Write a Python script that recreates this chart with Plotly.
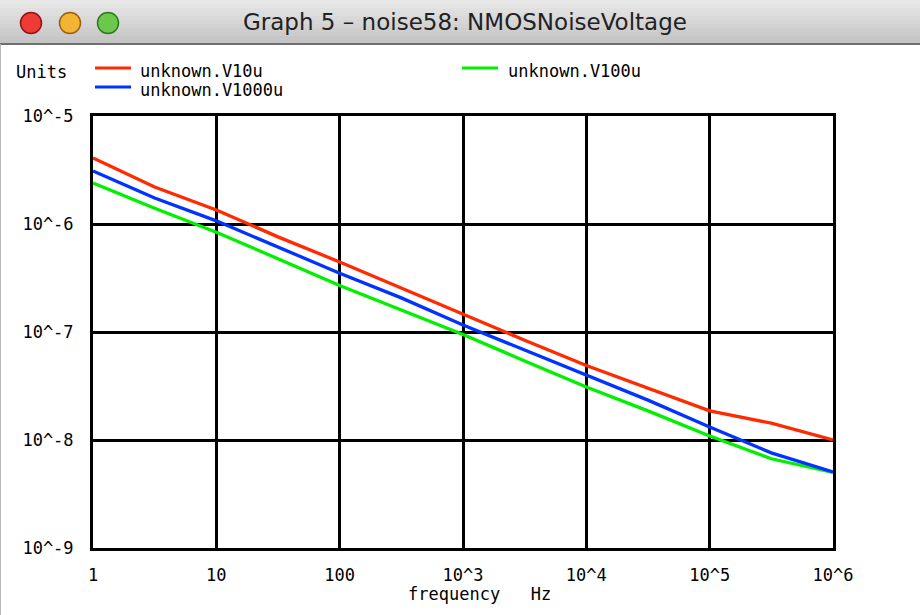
import plotly.graph_objects as go

# ---- data ----
freq = [1, 3.16, 10, 31.6, 100, 316, 1000, 3160, 10000, 31600, 100000, 316000, 1000000]
v10u = [4.08e-6, 2.2e-6, 1.35e-6, 7.6e-7, 4.45e-7, 2.55e-7, 1.46e-7, 8.4e-8, 4.9e-8, 3.0e-8, 1.86e-8, 1.43e-8, 1.0e-8]
v100u = [2.4e-6, 1.4e-6, 8.4e-7, 4.8e-7, 2.7e-7, 1.6e-7, 9.5e-8, 5.4e-8, 3.1e-8, 1.86e-8, 1.09e-8, 6.7e-9, 5.0e-9]
v1000u = [3.1e-6, 1.74e-6, 1.07e-6, 6.1e-7, 3.5e-7, 2.07e-7, 1.16e-7, 6.8e-8, 4.0e-8, 2.34e-8, 1.32e-8, 7.6e-9, 5.06e-9]

series_names = ["unknown.V10u", "unknown.V100u", "unknown.V1000u"]
series_colors = ["#ff2a00", "#00f000", "#0033ff"]
series_values = [v10u, v100u, v1000u]

x_tickvals = [1, 10, 100, 1e3, 1e4, 1e5, 1e6]
x_ticktext = ["1", "10", "100", "10^3", "10^4", "10^5", "10^6"]
y_tickvals = [1e-9, 1e-8, 1e-7, 1e-6, 1e-5]
y_ticktext = ["10^-9", "10^-8", "10^-7", "10^-6", "10^-5"]

MONO = "DejaVu Sans Mono"
FS = 17

fig = go.Figure()
# draw order: red, green, blue (blue on top)
for idx in [0, 1, 2]:
    fig.add_trace(go.Scatter(
        x=freq, y=series_values[idx], mode="lines", name=series_names[idx],
        line=dict(color=series_colors[idx], width=3.3), showlegend=False,
    ))

W, H = 920, 615
L, R, T, B = 93, 87, 116, 67
PW, PH = W - L - R, H - T - B

def px(xp):
    return (xp - L) / PW

def py(yp):
    return 1 - (yp - T) / PH

shapes = []
# window title bar (gradient stripes)
bar_h = 44
stripes = 11
for i in range(stripes):
    g = int(232 - (232 - 196) * i / (stripes - 1))
    y0 = bar_h * i / stripes
    y1 = bar_h * (i + 1) / stripes + 0.5
    shapes.append(dict(type="rect", xref="paper", yref="paper",
                       x0=px(0), x1=px(W), y0=py(y1), y1=py(y0),
                       fillcolor=f"rgb({g},{g},{g})", line=dict(width=0), layer="above"))
shapes.append(dict(type="line", xref="paper", yref="paper", x0=px(0), x1=px(W),
                   y0=py(bar_h), y1=py(bar_h), line=dict(color="#6e6e6e", width=2)))
# traffic lights
for cx, col, edge in [(31, "#ee3b36", "#8f1512"), (70, "#f1b433", "#9a620c"), (108, "#6cc84a", "#2a7a1e")]:
    r = 10.5
    shapes.append(dict(type="circle", xref="paper", yref="paper",
                       x0=px(cx - r), x1=px(cx + r), y0=py(23 + r), y1=py(23 - r),
                       fillcolor=col, line=dict(color=edge, width=1.5)))
# legend samples
legend_pos = [(95, 68), (462, 68), (95, 87)]
for (lx, ly), col in zip(legend_pos, series_colors):
    shapes.append(dict(type="line", xref="paper", yref="paper",
                       x0=px(lx), x1=px(lx + 36), y0=py(ly), y1=py(ly),
                       line=dict(color=col, width=3)))
# left thin border
shapes.append(dict(type="line", xref="paper", yref="paper", x0=px(0.5), x1=px(0.5),
                   y0=py(H), y1=py(bar_h), line=dict(color="#b8b8b8", width=1)))

annotations = [
    dict(text="Graph 5 \u2013 noise58: NMOSNoiseVoltage", x=px(465), y=py(22), xref="paper", yref="paper",
         showarrow=False, xanchor="center", yanchor="middle",
         font=dict(family="DejaVu Sans", size=23, color="#222")),
    dict(text="Units", x=px(14), y=py(72), xref="paper", yref="paper", showarrow=False,
         xanchor="left", yanchor="middle", font=dict(family=MONO, size=FS, color="black")),
    dict(text="frequency   Hz", x=px(479), y=py(594), xref="paper", yref="paper", showarrow=False,
         xanchor="center", yanchor="middle", font=dict(family=MONO, size=FS, color="black")),
]
legend_text_pos = [(138, 71), (506, 71), (138, 90)]
for (tx, ty), name in zip(legend_text_pos, series_names):
    annotations.append(dict(text=name, x=px(tx), y=py(ty), xref="paper", yref="paper", showarrow=False,
                            xanchor="left", yanchor="middle",
                            font=dict(family=MONO, size=FS, color="black")))

fig.update_layout(
    width=W, height=H,
    margin=dict(l=L, r=R, t=T, b=B, pad=0),
    paper_bgcolor="white", plot_bgcolor="white",
    shapes=shapes, annotations=annotations,
    xaxis=dict(type="log", range=[0, 6], tickvals=x_tickvals, ticktext=x_ticktext,
               showgrid=True, gridcolor="black", gridwidth=3,
               showline=True, linecolor="black", linewidth=3, mirror=True,
               ticks="", zeroline=False, ticklabelstandoff=10,
               tickfont=dict(family=MONO, size=FS, color="black")),
    yaxis=dict(type="log", range=[-9, -5], tickvals=y_tickvals, ticktext=y_ticktext,
               showgrid=True, gridcolor="black", gridwidth=3,
               showline=True, linecolor="black", linewidth=3, mirror=True,
               ticks="", zeroline=False, ticklabelstandoff=13,
               tickfont=dict(family=MONO, size=FS, color="black")),
)

fig.write_html("out.html")
